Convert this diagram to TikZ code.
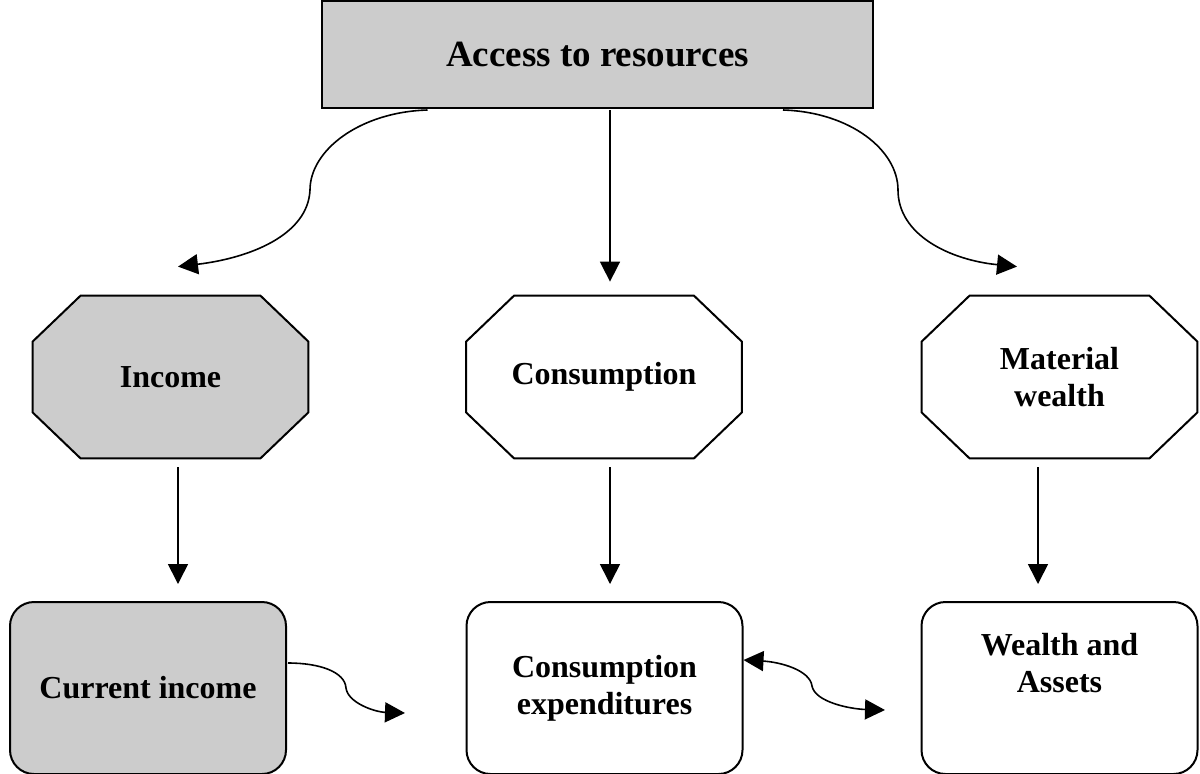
\documentclass[tikz,border=0pt]{standalone}
\usepackage{fontspec}
\setmainfont{Liberation Serif}
\usetikzlibrary{arrows.meta,backgrounds}

\definecolor{boxgray}{RGB}{204,204,204}

\tikzset{
  lbl/.style={font=\fontsize{16}{18.5}\selectfont\bfseries, align=center},
  octbox/.style={lbl, rectangle, minimum width=137.5pt, minimum height=81pt, inner sep=0pt},
  octline/.style={line width=1pt, draw=black},
  roundbox/.style={lbl, rectangle, rounded corners=12pt, draw, line width=1pt,
    minimum width=138pt, minimum height=86pt},
  arr/.style={line width=0.8pt, -{Triangle[length=10pt,width=10pt]}},
  dblarr/.style={line width=0.8pt, {Triangle[length=10pt,width=10pt]}-{Triangle[length=10pt,width=10pt]}}
}

\begin{document}
\begin{tikzpicture}[x=0.5pt, y=-0.5pt]

\useasboundingbox (0,0) rectangle (1200,773);

% top
\node[draw, line width=1pt, fill=boxgray, minimum width=275.5pt, minimum height=53.5pt,
  font=\fontsize{18.5}{22}\selectfont\bfseries] (acc) at (597.5,54.5) {Access to resources};

% middle row
\node[octbox] (inc) at (170.5,377) {Income};
\node[octbox] (cons) at (604,377) {Consumption};
\node[octbox] (mat) at (1059.5,377) {Material\\wealth};

\begin{scope}[on background layer]
\foreach \n/\f in {inc/boxgray, cons/white, mat/white}
  \draw[octline, fill=\f] ([xshift=24pt]\n.north west) -- ([xshift=-24pt]\n.north east)
    -- ([yshift=-23pt]\n.north east) -- ([yshift=23pt]\n.south east)
    -- ([xshift=-24pt]\n.south east) -- ([xshift=24pt]\n.south west)
    -- ([yshift=23pt]\n.south west) -- ([yshift=-23pt]\n.north west) -- cycle;
\end{scope}

% bottom row
\node[roundbox, fill=boxgray] (cur) at (148,688) {Current income};
\node[roundbox] (cexp) at (604.5,688) {Consumption\\expenditures};
\node[roundbox, label={[lbl, anchor=north, inner sep=0pt, yshift=-16pt]north:Wealth and\\Assets}] (wa) at (1059.5,688) {};

% bends and free ends
\coordinate (lbend) at (310,190);
\coordinate (rbend) at (898,190);
\coordinate (cbend) at (346,688);
\coordinate (ctip) at (405,713);
\coordinate (wbend) at (812,686);
\coordinate (wtip) at (885,710);

\draw[arr] ([shift={(-170,1)}]acc.south) .. controls (360,112) and (310,150) .. (lbend)
  .. controls (308,235) and (250,258) .. ([shift={(7.5,-29)}]inc.north);
\draw[arr] ([shift={(12.5,1)}]acc.south) -- ([shift={(6,-14)}]cons.north);
\draw[arr] ([shift={(185.5,1)}]acc.south) .. controls (850,112) and (898,150) .. (rbend)
  .. controls (898,235) and (950,260) .. ([shift={(-42.5,-29)}]mat.north);

\draw[arr] ([shift={(7.5,9)}]inc.south) -- ([shift={(30,-17)}]cur.north);
\draw[arr] ([shift={(6,9)}]cons.south) -- ([shift={(5.5,-17)}]cexp.north);
\draw[arr] ([shift={(-21.5,9)}]mat.south) -- ([shift={(-21.5,-17)}]wa.north);

\draw[arr] ([shift={(1,-25)}]cur.east) .. controls (320,663) and (345,672) .. (cbend)
  .. controls (348,703) and (375,712) .. (ctip);
\draw[dblarr] ([shift={(0,-28)}]cexp.east) .. controls (780,662) and (810,670) .. (wbend)
  .. controls (815,702) and (850,709) .. (wtip);

\end{tikzpicture}
\end{document}
